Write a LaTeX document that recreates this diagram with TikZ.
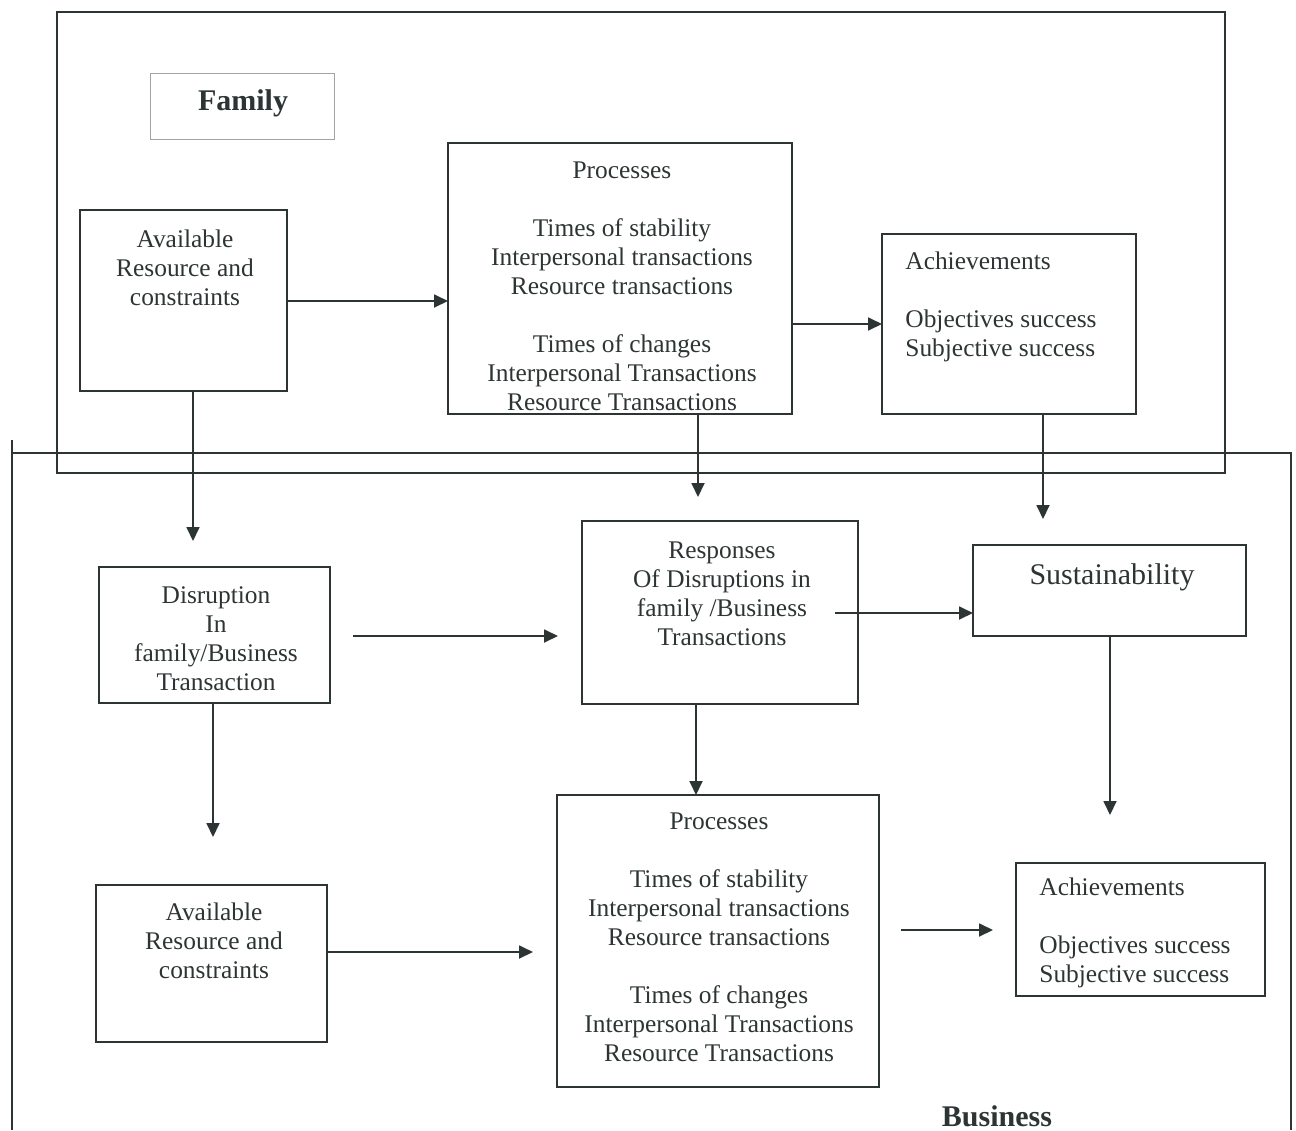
\documentclass[tikz,border=0pt]{standalone}
\usepackage{fontspec}
\setmainfont{Liberation Serif}
\usetikzlibrary{arrows.meta}
\definecolor{ink}{RGB}{45,52,52}
\begin{document}
\begin{tikzpicture}[x=0.5pt,y=-0.5pt,
  box/.style={draw=ink,line width=0.9pt,inner sep=0pt,outer sep=0pt},
  txt/.style={text=ink,font=\fontsize{12.7}{14.5}\selectfont,align=center,inner sep=0pt},
  ltxt/.style={txt,align=left,anchor=west},
  arr/.style={draw=ink,line width=0.9pt,-{Triangle[length=7pt,width=6.5pt]}},
  frame/.style={draw=ink,line width=0.9pt},
  titletxt/.style={text=ink,font=\fontsize{15}{18}\selectfont\bfseries,inner sep=0pt}]
\useasboundingbox (0,0) rectangle (1296,1130);

% outer frames
\draw[frame] (57,12) rectangle (1225,473);
\draw[frame] (12,440) -- (12,1130);
\draw[frame] (12,453) -- (1291,453) -- (1291,1130);

% Family label
\node[draw=ink!45,line width=0.5pt,minimum width=92pt,minimum height=33pt,inner sep=0pt] (famlab) at (242,106) {};
\node[titletxt] (famtxt) at (243,103) {Family};
\node[titletxt] (bustxt) at (997,1116) {Business};

% top row boxes
\node[box,minimum width=103.5pt,minimum height=90.5pt] (A1) at (183.5,300.5) {};
\node[txt] (A1t) at (185,267.5) {Available\\Resource and\\constraints};
\node[box,minimum width=172pt,minimum height=135.5pt] (P1) at (620,278.5) {};
\node[txt] (P1t) at (622,286.5) {Processes\\[14.5pt]Times of stability\\Interpersonal transactions\\Resource transactions\\[14.5pt]Times of changes\\Interpersonal Transactions\\Resource Transactions};
\node[box,minimum width=127pt,minimum height=90pt] (C1) at (1009,324) {};
\node[ltxt] (C1t) at (905,306.5) {Achievements\\[14.5pt]Objectives success\\Subjective success};

% middle row
\node[box,minimum width=115.5pt,minimum height=68pt] (D) at (214.5,635) {};
\node[txt] (Dt) at (216,638.5) {Disruption\\In\\family/Business\\Transaction};
\node[box,minimum width=138pt,minimum height=91.5pt] (R) at (720,612.5) {};
\node[txt] (Rt) at (722,593.5) {Responses\\Of Disruptions in\\family /Business\\Transactions};
\node[box,minimum width=136.5pt,minimum height=45.5pt] (S) at (1109.5,590.5) {};
\node[txt,font=\fontsize{15}{18}\selectfont] (St) at (1112,577) {Sustainability};

% bottom row
\node[box,minimum width=115.5pt,minimum height=78.5pt] (A2) at (211.5,963.5) {};
\node[txt] (A2t) at (214,940.5) {Available\\Resource and\\constraints};
\node[box,minimum width=161pt,minimum height=146pt] (P2) at (718,941) {};
\node[txt] (P2t) at (719,937.5) {Processes\\[14.5pt]Times of stability\\Interpersonal transactions\\Resource transactions\\[14.5pt]Times of changes\\Interpersonal Transactions\\Resource Transactions};
\node[box,minimum width=124.5pt,minimum height=66.5pt] (C2) at (1140.5,929.5) {};
\node[ltxt] (C2t) at (1039,933) {Achievements\\[14.5pt]Objectives success\\Subjective success};

% free arrow ends
\coordinate (a1end) at (193,541);
\coordinate (p1end) at (698,497);
\coordinate (c1end) at (1043,519);
\coordinate (dstart) at (353,636);
\coordinate (dend) at (558,636);
\coordinate (rstart) at (835,613);
\coordinate (ddend) at (213,837);
\coordinate (send) at (1110,815);
\coordinate (a2end) at (533,952);
\coordinate (p2start) at (901,930);
\coordinate (p2end) at (993,930);

% connectors
\draw[arr] (A1.east |- 0,301) -- (P1.west |- 0,301);
\draw[arr] (P1.east |- 0,324) -- (C1.west |- 0,324);
\draw[arr] (A1.south -| a1end) -- (a1end);
\draw[arr] (P1.south -| p1end) -- (p1end);
\draw[arr] (C1.south -| c1end) -- (c1end);
\draw[arr] (dstart) -- (dend);
\draw[arr] (rstart) -- (S.west |- rstart);
\draw[arr] (D.south -| ddend) -- (ddend);
\draw[arr] (R.south -| 696,0) -- (P2.north -| 696,0);
\draw[arr] (S.south -| send) -- (send);
\draw[arr] (A2.east |- a2end) -- (a2end);
\draw[arr] (p2start) -- (p2end);
\end{tikzpicture}
\end{document}
